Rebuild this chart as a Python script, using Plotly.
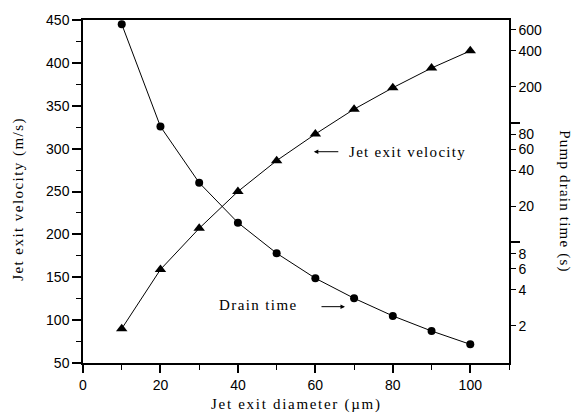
import plotly.graph_objects as go

# ---- data ----
diameter_um = [10, 20, 30, 40, 50, 60, 70, 80, 90, 100]
jet_velocity = [90, 159, 207, 250, 286, 317, 346, 371, 394, 414]
drain_time = [669, 93, 31.5, 14.6, 8.1, 5.0, 3.4, 2.42, 1.81, 1.40]

x_ticks = [0, 20, 40, 60, 80, 100]
y_ticks = [50, 100, 150, 200, 250, 300, 350, 400, 450]
y2_ticks = [2, 4, 6, 8, 20, 40, 60, 80, 200, 400, 600]
y2_major = [10, 100]

SERIF = "Liberation Serif, Times New Roman, serif"
SANS = "Liberation Sans, Arial, sans-serif"


def spaced(text, px):
    return f'<span style="letter-spacing:{px}px">{text}</span>'


fig = go.Figure()

fig.add_trace(go.Scatter(
    x=diameter_um, y=jet_velocity, mode="lines+markers",
    line=dict(color="black", width=1),
    marker=dict(symbol="triangle-up", size=10, color="black"),
    name="Jet exit velocity", yaxis="y", showlegend=False))

fig.add_trace(go.Scatter(
    x=diameter_um, y=drain_time, mode="lines+markers",
    line=dict(color="black", width=1),
    marker=dict(symbol="circle", size=8, color="black"),
    name="Drain time", yaxis="y2", showlegend=False))

# page body has an 8px default margin -> figure is offset by (8, 8)
fig.update_layout(
    width=571, height=408,
    margin=dict(l=75, r=70, t=12, b=53, autoexpand=False),
    paper_bgcolor="white", plot_bgcolor="white",
    font=dict(family=SANS, size=14, color="black"),
    xaxis=dict(
        range=[0, 110], tickmode="array", tickvals=x_ticks, automargin=False,
        ticks="outside", ticklen=8, tickwidth=1.5, tickcolor="black",
        minor=dict(tickmode="array", tickvals=[10, 30, 50, 70, 90, 110],
                   ticks="outside", ticklen=5, tickwidth=1, tickcolor="black"),
        showline=True, linecolor="black", linewidth=2, mirror=True,
        showgrid=False, zeroline=False,
        tickfont=dict(family=SANS, size=14),
    ),
    yaxis=dict(
        range=[50, 450], tickmode="array", tickvals=y_ticks, automargin=False,
        ticks="outside", ticklen=9, tickwidth=1.5, tickcolor="black",
        minor=dict(tickmode="array",
                   tickvals=[75, 125, 175, 225, 275, 325, 375, 425],
                   ticks="outside", ticklen=5, tickwidth=1, tickcolor="black"),
        showline=True, linecolor="black", linewidth=1.5,
        showgrid=False, zeroline=False,
        tickfont=dict(family=SANS, size=14),
    ),
    yaxis2=dict(
        type="log", range=[-0.01, 2.86], overlaying="y", side="right",
        automargin=False,
        tickmode="array", tickvals=y2_ticks,
        ticktext=[str(v) for v in y2_ticks],
        ticks="outside", ticklen=5, tickwidth=1, tickcolor="black",
        minor=dict(tickmode="array", tickvals=y2_major,
                   ticks="outside", ticklen=9, tickwidth=1.5, tickcolor="black"),
        showline=True, linecolor="black", linewidth=1.5,
        showgrid=False, zeroline=False,
        tickfont=dict(family=SANS, size=14),
    ),
)

annots = [
    dict(text=spaced("Jet exit diameter (\u00b5m)", 1.7), xref="paper", yref="paper",
         x=0.5, y=-0.122, showarrow=False, xanchor="center", yanchor="middle",
         font=dict(family=SERIF, size=15)),
    dict(text=spaced("Jet exit velocity (m/s)", 1.45), xref="paper", yref="paper",
         x=-0.153, y=0.478, textangle=-90, showarrow=False,
         xanchor="center", yanchor="middle",
         font=dict(family=SERIF, size=15)),
    dict(text=spaced("Pump drain time (s)", 1.2), xref="paper", yref="paper",
         x=1.131, y=0.472, textangle=90, showarrow=False,
         font=dict(family=SERIF, size=15), xanchor="center", yanchor="middle"),
    dict(text=spaced("Jet exit velocity", 1.3), xref="x", yref="y", x=68.1, y=296.4,
         showarrow=False, xanchor="left", yanchor="middle",
         font=dict(family=SERIF, size=15)),
    dict(text="", xref="x", yref="y", x=59.6, y=296.4, ax=26, ay=0,
         showarrow=True, arrowhead=2, arrowsize=0.9, arrowwidth=1,
         arrowcolor="black"),
    dict(text=spaced("Drain time", 1.4), xref="x", yref="y", x=56.0, y=117.6,
         showarrow=False, xanchor="right", yanchor="middle",
         font=dict(family=SERIF, size=15)),
    dict(text="", xref="x", yref="y", x=67.65, y=115.7, ax=-25, ay=0,
         showarrow=True, arrowhead=2, arrowsize=0.9, arrowwidth=1,
         arrowcolor="black"),
]
fig.update_layout(annotations=annots)

fig.write_html("out.html")
